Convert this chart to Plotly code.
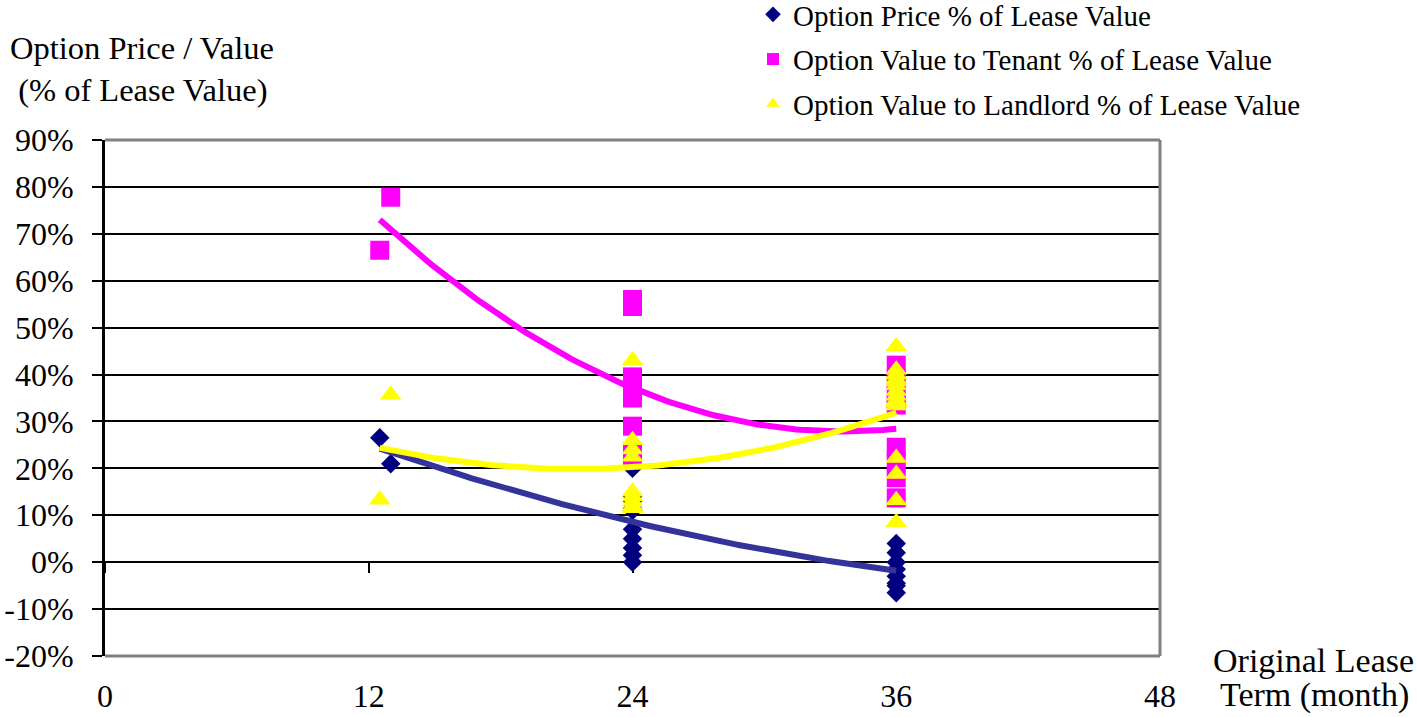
import numpy as np
import plotly.graph_objects as go

# ---- data (percent of lease value vs original lease term in months) ----
price_term = [12.5, 13, 24, 24, 24, 24, 24, 24, 24, 24, 24, 24,
              36, 36, 36, 36, 36, 36, 36, 36]
price_pct = [26.5, 21, 20, 14, 13, 11.5, 11, 7, 5, 3, 1.5, 0,
             4, 2, 0, -1.5, -3, -4.5, -5, -6.5]

tenant_term = [12.5, 13, 24, 24, 24, 24, 24, 24, 24, 24,
               36, 36, 36, 36, 36, 36, 36, 36]
tenant_pct = [66.5, 77.8, 56, 54.5, 39.5, 37, 35, 29, 23.5, 22,
              42, 39, 35.7, 33.5, 24.5, 21.4, 18, 13.7]

landlord_term = [12.5, 13, 24, 24, 24, 24, 24, 24, 24, 24, 24,
                 36, 36, 36, 36, 36, 36, 36, 36, 36, 36, 36, 36, 36, 36, 36]
landlord_pct = [13.3, 35.7, 43, 26, 24, 22.5, 15, 14, 13, 12, 11.5,
                46, 41, 40, 39, 38.5, 37.7, 36.5, 35.5, 34.5, 34, 33.4,
                22.2, 18.8, 13.2, 8.5]

series_names = ["Option Price % of Lease Value",
                "Option Value to Tenant % of Lease Value",
                "Option Value to Landlord % of Lease Value"]

x_ticks = [0, 12, 24, 36, 48]
y_ticks = [-20, -10, 0, 10, 20, 30, 40, 50, 60, 70, 80, 90]
y_ticklabels = ["-20%", "-10%", "0%", "10%", "20%", "30%", "40%",
                "50%", "60%", "70%", "80%", "90%"]

FONT = "Liberation Serif, Times New Roman, serif"
NAVY = "#000080"
NAVY_LINE = "#333399"
MAGENTA = "#FF00FF"
YELLOW = "#FFFF00"

# plot area in pixels
L, R, T, B = 105, 1160, 140, 656
PW, PH = R - L, B - T


def px_x(px):
    return (px - L) / PW


def px_y(py):
    return (B - py) / PH


def trend(xv, yv):
    c = np.polyfit(xv, yv, 2)
    xs = np.linspace(min(xv), max(xv), 120)
    return xs, np.polyval(c, xs)


fig = go.Figure()

fig.add_trace(go.Scatter(x=price_term, y=price_pct, mode="markers", name=series_names[0],
                         legendgroup="a",
                         marker=dict(symbol="diamond", size=15, color=NAVY)))
fig.add_trace(go.Scatter(x=tenant_term, y=tenant_pct, mode="markers", name=series_names[1],
                         legendgroup="b",
                         marker=dict(symbol="square", size=19, color=MAGENTA)))
fig.add_trace(go.Scatter(x=landlord_term, y=landlord_pct, mode="markers", name=series_names[2],
                         legendgroup="c",
                         marker=dict(symbol="triangle-up", size=19, color=YELLOW)))

for xv, yv, col in [(price_term, price_pct, NAVY_LINE),
                    (tenant_term, tenant_pct, MAGENTA),
                    (landlord_term, landlord_pct, YELLOW)]:
    xs, ys = trend(xv, yv)
    fig.add_trace(go.Scatter(x=xs, y=ys, mode="lines", showlegend=False,
                             line=dict(color=col, width=6), hoverinfo="skip"))

# invisible trace on the crossing axis (for tick marks at y = 0)
fig.add_trace(go.Scatter(x=[0], y=[0], xaxis="x2", mode="markers",
                         marker=dict(size=1, opacity=0), showlegend=False, hoverinfo="skip"))

fig.update_layout(
    width=1417, height=717,
    margin=dict(l=L, r=1417 - R, t=T, b=717 - B, autoexpand=False),
    paper_bgcolor="white", plot_bgcolor="white",
    font=dict(family=FONT, color="black"),
    xaxis=dict(range=[0, 48], tickvals=x_ticks, ticktext=[str(v) for v in x_ticks],
               showgrid=False, zeroline=False, showline=False,
               ticks="outside", ticklen=12, tickcolor="rgba(0,0,0,0)",
               tickfont=dict(size=32, family=FONT)),
    xaxis2=dict(overlaying="x", anchor="free", position=20 / 110, side="bottom",
                range=[0, 48], tickvals=x_ticks, showticklabels=False,
                ticks="outside", ticklen=10, tickwidth=2, tickcolor="black",
                showgrid=False, zeroline=False, showline=False, layer="below traces"),
    yaxis=dict(range=[-20, 90], tickvals=y_ticks, ticktext=y_ticklabels,
               showgrid=True, gridcolor="black", gridwidth=2,
               zeroline=True, zerolinecolor="black", zerolinewidth=2,
               showline=True, linecolor="black", linewidth=3,
               ticks="outside", ticklen=10, tickwidth=2, tickcolor="black",
               ticklabelstandoff=12,
               tickfont=dict(size=32, family=FONT)),
    legend=dict(x=px_x(753), y=px_y(-11), xanchor="left", yanchor="top",
                bgcolor="rgba(0,0,0,0)", borderwidth=0,
                font=dict(size=29, family=FONT), itemsizing="constant",
                tracegroupgap=4, traceorder="grouped"),
    showlegend=True,
    shapes=[dict(type="line", xref="paper", yref="paper", x0=0, x1=1, y0=1, y1=1,
                 line=dict(color="#808080", width=3)),
            dict(type="line", xref="paper", yref="paper", x0=1, x1=1, y0=0, y1=1,
                 line=dict(color="#808080", width=3)),
            dict(type="line", xref="paper", yref="paper", x0=0, x1=1, y0=0, y1=0,
                 line=dict(color="#808080", width=3))],
    annotations=[
        dict(xref="paper", yref="paper", x=px_x(8), y=px_y(69),
             xanchor="left", yanchor="middle", align="left", showarrow=False,
             text="Option Price / Value<br> (% of Lease Value)",
             font=dict(size=32.5, family=FONT)),
        dict(xref="paper", yref="paper", x=px_x(1313), y=px_y(660),
             xanchor="center", yanchor="middle", showarrow=False,
             text="Original Lease", font=dict(size=34, family=FONT)),
        dict(xref="paper", yref="paper", x=px_x(1314), y=px_y(695),
             xanchor="center", yanchor="middle", showarrow=False,
             text="Term (month)", font=dict(size=34, family=FONT)),
    ],
)

fig.write_html("out.html", config={"displayModeBar": False},
               post_script="document.body.style.margin='0';")
